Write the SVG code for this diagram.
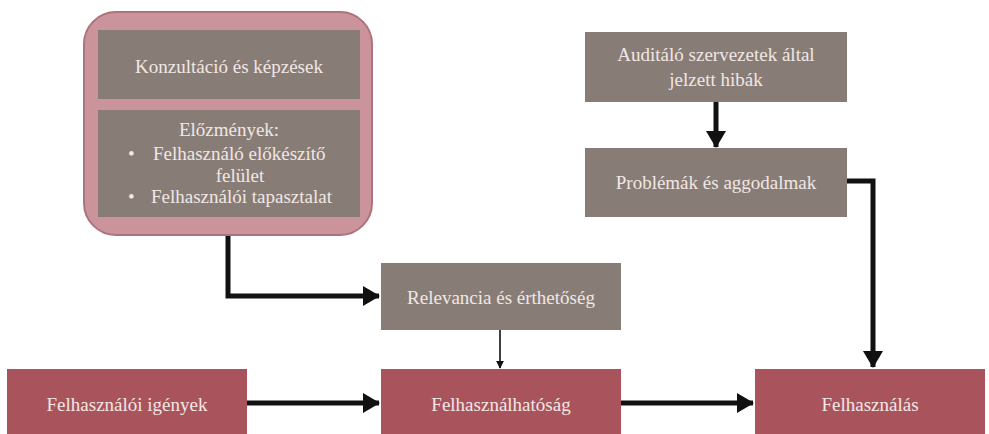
<svg xmlns="http://www.w3.org/2000/svg" width="989" height="434" viewBox="0 0 989 434">
<style>
.gray{fill:#877c76}
.red{fill:#a9545c}
.t{font-family:"Liberation Serif","DejaVu Serif","Times New Roman",serif;font-size:19px;fill:#f1e7e4;text-anchor:middle}
.tl{font-family:"Liberation Serif","DejaVu Serif","Times New Roman",serif;font-size:19px;fill:#f1e7e4}
.thick{stroke:#111;stroke-width:5;fill:none}
.thin{stroke:#111;stroke-width:1.6;fill:none}
</style>
<defs>
<marker id="ah" viewBox="0 0 8.5 10" refX="8" refY="5" markerWidth="3.4" markerHeight="4" orient="auto" markerUnits="strokeWidth"><path d="M0,0 L8.5,5 L0,10 z" fill="#111"/></marker>
<marker id="ahs" viewBox="0 0 10 10" refX="9" refY="5" markerWidth="5" markerHeight="5" orient="auto" markerUnits="strokeWidth"><path d="M0,0 L10,5 L0,10 z" fill="#111"/></marker>
</defs>
<rect width="989" height="434" fill="#fff"/>
<g id="connectors">
<path class="thick" d="M228,236 V296 H379" marker-end="url(#ah)"/>
<path class="thick" d="M716,102 V147" marker-end="url(#ah)"/>
<path class="thick" d="M847,181 H873 V367" marker-end="url(#ah)"/>
<path class="thin" d="M500,330 V368" marker-end="url(#ahs)"/>
<path class="thick" d="M247,403 H379" marker-end="url(#ah)"/>
<path class="thick" d="M621,403 H753" marker-end="url(#ah)"/>
</g>
<g id="container">
<rect x="84" y="12" width="288" height="223" rx="32" fill="#cb949d" stroke="#ad737c" stroke-width="2"/>
</g>
<g id="konzultacio">
<rect class="gray" x="98" y="30" width="262" height="69"/>
<text class="t" x="229" y="73">Konzultáció és képzések</text>
</g>
<g id="elozmenyek">
<rect class="gray" x="98" y="110" width="262" height="107"/>
<text class="t" x="229" y="136">Előzmények:</text>
<text class="tl" x="128" y="160">•</text>
<text class="tl" x="153" y="160">Felhasználó előkészítő</text>
<text class="t" x="240" y="182">felület</text>
<text class="tl" x="128" y="203">•</text>
<text class="tl" x="151" y="203">Felhasználói tapasztalat</text>
</g>
<g id="auditalo">
<rect class="gray" x="585" y="32" width="262" height="70"/>
<text class="t" x="716" y="61">Auditáló szervezetek által</text>
<text class="t" x="716" y="86">jelzett hibák</text>
</g>
<g id="problemak">
<rect class="gray" x="585" y="148" width="262" height="69"/>
<text class="t" x="716" y="189">Problémák és aggodalmak</text>
</g>
<g id="relevancia">
<rect class="gray" x="381" y="263" width="240" height="67"/>
<text class="t" x="501" y="304">Relevancia és érthetőség</text>
</g>
<g id="igenyek">
<rect class="red" x="7" y="369" width="240" height="65"/>
<text class="t" x="127" y="411">Felhasználói igények</text>
</g>
<g id="felhasznalhatosag">
<rect class="red" x="381" y="369" width="240" height="65"/>
<text class="t" x="501" y="411">Felhasználhatóság</text>
</g>
<g id="felhasznalas">
<rect class="red" x="755" y="369" width="230" height="65"/>
<text class="t" x="870" y="411">Felhasználás</text>
</g>
</svg>
